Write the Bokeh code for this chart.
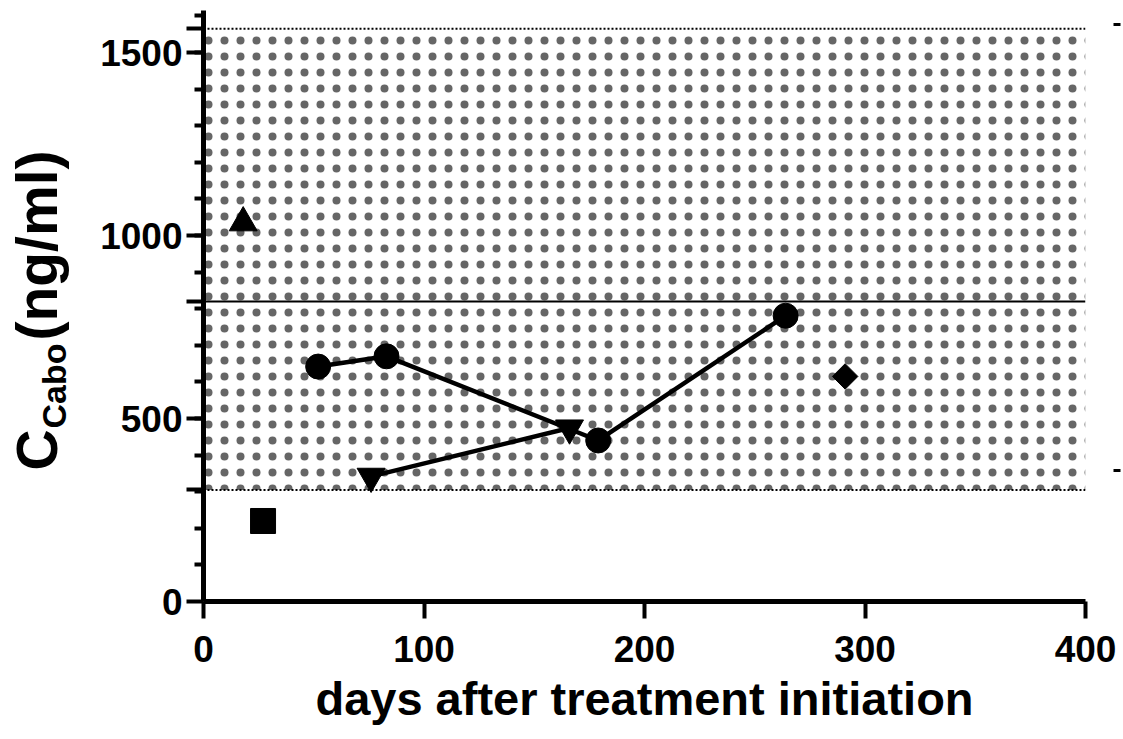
import math
from bokeh.plotting import figure
from bokeh.layouts import row
from bokeh.models import Range1d, FixedTicker, CustomJSTickFormatter, LinearAxis, Span
from bokeh.core.properties import value
from bokeh.embed import file_html
from bokeh.resources import INLINE

# ---- data ----
band_low = 305
band_high = 1565
threshold = 820

tri_up_days = [18]
tri_up_conc = [1035]
square_days = [27]
square_conc = [220]
circle_days = [52, 83, 179, 264]
circle_conc = [642, 670, 440, 781]
tri_down_days = [76, 166]
tri_down_conc = [342, 474]
diamond_days = [291]
diamond_conc = [615]

x_ticks = [0, 100, 200, 300, 400]
y_labeled = [0, 500, 1000, 1500]
y_minor = list(range(100, 1700, 100))
right_ticks = [358, 1577]

x_title = "days after treatment initiation"
y_title_main = "C"
y_title_sub = "Cabo"
y_title_unit = "(ng/ml)"

FONT = "Liberation Sans"
TOTAL_W, TOTAL_H = 1121, 738
LEFT_W = 88
BORDER_TOP, BORDER_BOTTOM = 10, 137

# ---- main plot ----
p = figure(width=TOTAL_W - LEFT_W, height=TOTAL_H, x_range=Range1d(0, 400), y_range=Range1d(0, 1615),
           output_backend="svg", toolbar_location=None,
           min_border_left=115, min_border_right=36, min_border_top=BORDER_TOP,
           min_border_bottom=BORDER_BOTTOM)
p.xgrid.visible = False
p.ygrid.visible = False
p.outline_line_color = None

# dotted band
p.quad(left=[x_ticks[0]], right=[x_ticks[-1]], bottom=[band_low], top=[band_high],
       fill_alpha=0, line_color=None, hatch_pattern="dot", hatch_scale=16,
       hatch_weight=0.1, hatch_color="black", hatch_alpha=0.6)
for loc in (band_low, band_high):
    p.add_layout(Span(location=loc, dimension="width", line_color="black",
                      line_width=2, line_dash="2 2"))
p.add_layout(Span(location=threshold, dimension="width", line_color="black", line_width=2))

# data marks
p.scatter(tri_up_days, tri_up_conc, marker="triangle", size=28, color="black")
p.scatter(square_days, square_conc, marker="square", size=25, color="black")
p.line(circle_days, circle_conc, line_width=4.5, color="black")
p.scatter(circle_days, circle_conc, marker="circle", size=25, color="black")
p.line(tri_down_days, tri_down_conc, line_width=4.5, color="black")
p.scatter(tri_down_days, tri_down_conc, marker="inverted_triangle", size=28, color="black")
p.scatter(diamond_days, diamond_conc, marker="square", angle=math.pi / 4, size=18, color="black")

# x axis
xa = p.xaxis[0]
xa.ticker = FixedTicker(ticks=x_ticks, minor_ticks=[])
xa.axis_line_width = 5
xa.major_tick_out = 17
xa.major_tick_in = 0
xa.major_tick_line_width = 4
xa.minor_tick_out = 0
xa.major_label_text_font = FONT
xa.major_label_text_font_style = "bold"
xa.major_label_text_font_size = "37px"
xa.major_label_text_color = "black"
xa.major_label_standoff = 17
xa.axis_label = x_title
xa.axis_label_text_font = FONT
xa.axis_label_text_font_style = "bold"
xa.axis_label_text_font_size = "47px"
xa.axis_label_text_color = "black"
xa.axis_label_standoff = 7

# y axis
ya = p.yaxis[0]
ya.ticker = FixedTicker(ticks=y_labeled + [band_low, threshold, band_high], minor_ticks=y_minor)
shown = ",".join(str(v) for v in y_labeled)
ya.formatter = CustomJSTickFormatter(
    code=f"return [{shown}].includes(Math.round(tick)) ? String(Math.round(tick)) : '';")
ya.axis_line_width = 5
ya.major_tick_out = 17
ya.major_tick_in = 0
ya.major_tick_line_width = 4
ya.minor_tick_out = 9
ya.minor_tick_in = 0
ya.minor_tick_line_width = 4
ya.major_label_text_font = FONT
ya.major_label_text_font_style = "bold"
ya.major_label_text_font_size = "37px"
ya.major_label_text_color = "black"
ya.major_label_standoff = 4

# right-side marks
ra = LinearAxis(ticker=FixedTicker(ticks=right_ticks, minor_ticks=[]),
                formatter=CustomJSTickFormatter(code="return '';"))
ra.axis_line_color = None
ra.major_tick_in = -28
ra.major_tick_out = 35
ra.major_tick_line_width = 3
ra.minor_tick_out = 0
ra.major_label_standoff = 0
p.add_layout(ra, "right")

# ---- y title panel (frame aligned with the main frame: y = pixels above the x axis) ----
frame_h = TOTAL_H - BORDER_TOP - BORDER_BOTTOM
yl = figure(width=LEFT_W, height=TOTAL_H, x_range=Range1d(0, LEFT_W), y_range=Range1d(0, frame_h),
            output_backend="svg", toolbar_location=None,
            min_border_left=0, min_border_right=0, min_border_top=BORDER_TOP,
            min_border_bottom=BORDER_BOTTOM, x_axis_location=None, y_axis_location=None)
yl.xgrid.visible = False
yl.ygrid.visible = False
yl.outline_line_color = None
tkw = dict(angle=math.pi / 2, text_color="black", text_font=value(FONT), text_font_style="bold",
           text_align="left", text_baseline="middle")
yl.text(x=[36], y=[131], text=[y_title_main], text_font_size="57px", **tkw)
yl.text(x=[53], y=[173], text=[y_title_sub], text_font_size="34px", **tkw)
yl.text(x=[36], y=[261], text=[y_title_unit], text_font_size="57px", **tkw)

layout = row(yl, p, spacing=0)
open("out.html", "w").write(file_html(layout, INLINE))
